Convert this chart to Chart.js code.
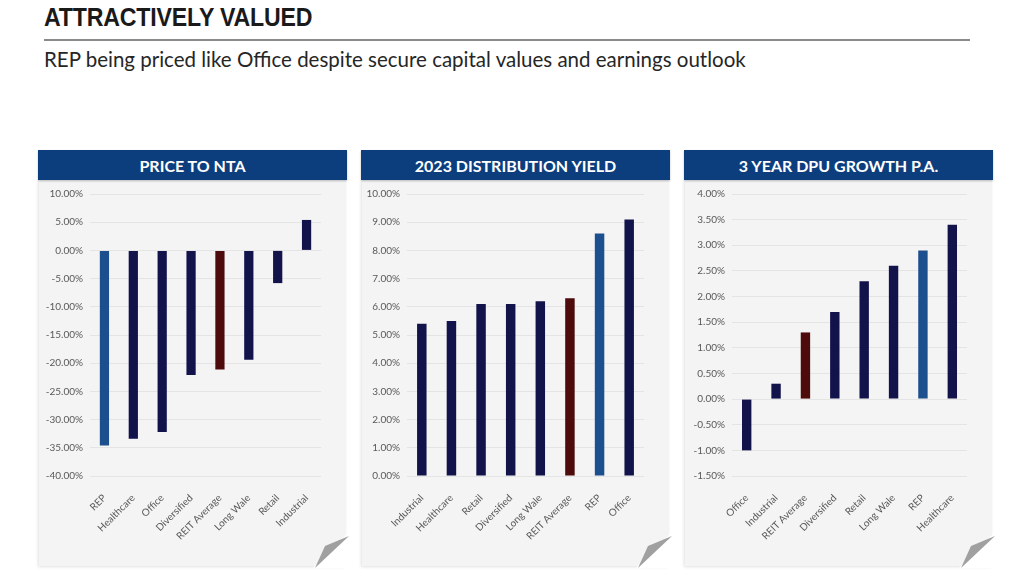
<!DOCTYPE html>
<html>
<head>
<meta charset="utf-8">
<script src="https://cdn.jsdelivr.net/npm/chart.js@4.4.1/dist/chart.umd.min.js"></script>
<style>
  html, body { margin:0; padding:0; background:#ffffff; }
  body { width:1024px; height:576px; position:relative; overflow:hidden; font-family: Lato, "Open Sans", sans-serif; }
  #title { position:absolute; left:44px; top:2px; font-family:"Liberation Sans", Arial, sans-serif; font-weight:700; font-size:26px; color:#1a1a1a; transform:scaleX(0.89); transform-origin:left top; white-space:nowrap; letter-spacing:-0.2px; }
  #rule { position:absolute; left:44px; top:39px; width:926px; height:2px; background:#8a8a8a; }
  #subtitle { position:absolute; left:44px; top:47px; font-family:Lato, sans-serif; font-size:20.5px; color:#262626; white-space:nowrap; }
  .panel { position:absolute; top:150px; width:309px; height:416px; }
  .hdr { position:absolute; left:0; top:0; width:100%; height:30px; background:#0c3e7e; color:#fff; font-family:Lato, sans-serif; font-weight:700; font-size:16px; line-height:31px; text-align:center; box-shadow:0 1px 2px rgba(0,0,0,0.25); }
  .body { position:absolute; left:1px; top:30px; width:307px; height:386px; background:#f4f4f4; box-shadow:-1px 1px 3px rgba(0,0,0,0.12); }
  .panel canvas { position:absolute; left:0; top:30px; }
  .curl { position:absolute; right:-2px; bottom:-2px; width:36px; height:36px; }
</style>
</head>
<body>
<div id="title">ATTRACTIVELY VALUED</div>
<div id="rule"></div>
<div id="subtitle">REP being priced like Office despite secure capital values and earnings outlook</div>

<div class="panel" style="left:38px;"><div class="body"></div><div class="hdr">PRICE TO NTA</div><canvas id="c1" width="309" height="386"></canvas>
<svg class="curl" viewBox="0 0 36 36"><polygon points="36,0 36,36 0,36" fill="#ffffff"/><polygon points="36,4 2,36 12,14" fill="#a0a0a0"/></svg></div>
<div class="panel" style="left:361px;"><div class="body"></div><div class="hdr">2023 DISTRIBUTION YIELD</div><canvas id="c2" width="309" height="386"></canvas>
<svg class="curl" viewBox="0 0 36 36"><polygon points="36,0 36,36 0,36" fill="#ffffff"/><polygon points="36,4 2,36 12,14" fill="#a0a0a0"/></svg></div>
<div class="panel" style="left:684px;"><div class="body"></div><div class="hdr">3 YEAR DPU GROWTH P.A.</div><canvas id="c3" width="309" height="386"></canvas>
<svg class="curl" viewBox="0 0 36 36"><polygon points="36,0 36,36 0,36" fill="#ffffff"/><polygon points="36,4 2,36 12,14" fill="#a0a0a0"/></svg></div>

<script>
// ---- Data ----
const ntaCategories = ["REP", "Healthcare", "Office", "Diversified", "REIT Average", "Long Wale", "Retail", "Industrial"];
const ntaValues = [-34.6, -33.4, -32.2, -22.1, -21.1, -19.4, -5.8, 5.4];
const ntaTicks = { min: -40, max: 10, step: 5 };

const yieldCategories = ["Industrial", "Healthcare", "Retail", "Diversified", "Long Wale", "REIT Average", "REP", "Office"];
const yieldValues = [5.4, 5.5, 6.1, 6.1, 6.2, 6.3, 8.6, 9.1];
const yieldTicks = { min: 0, max: 10, step: 1 };

const dpuCategories = ["Office", "Industrial", "REIT Average", "Diversified", "Retail", "Long Wale", "REP", "Healthcare"];
const dpuValues = [-1.0, 0.3, 1.3, 1.7, 2.3, 2.6, 2.9, 3.4];
const dpuTicks = { min: -1.5, max: 4, step: 0.5 };

// ---- Styles ----
const NAVY = "#13134c", REPBLUE = "#1c4f8e", AVGRED = "#4e0b0b";
function colorFor(c) { return c === "REP" ? REPBLUE : (c === "REIT Average" ? AVGRED : NAVY); }

function makeChart(id, cats, vals, t, yWidth) {
  new Chart(document.getElementById(id), {
    type: "bar",
    data: { labels: cats, datasets: [{ data: vals, backgroundColor: cats.map(colorFor), borderWidth: 0, barPercentage: 0.32, categoryPercentage: 1 }] },
    options: {
      responsive: false, animation: false,
      layout: { padding: { top: 14, right: 26, bottom: 0, left: 0 } },
      plugins: { legend: { display: false }, tooltip: { enabled: false } },
      scales: {
        x: {
          grid: { display: false }, border: { display: false },
          ticks: { maxRotation: 45, minRotation: 45, color: "#595959", font: { family: "Lato", size: 10 }, padding: 8 },
          afterFit: s => { s.height = 90; }
        },
        y: {
          min: t.min, max: t.max,
          grid: { color: "#e4e4e4", drawTicks: false, lineWidth: 1 }, border: { display: false },
          ticks: { stepSize: t.step, color: "#595959", font: { family: "Lato", size: 10 }, padding: 7,
                   callback: v => v.toFixed(2) + "%" },
          afterFit: s => { s.width = yWidth; }
        }
      }
    }
  });
}
makeChart("c1", ntaCategories, ntaValues, ntaTicks, 52);
makeChart("c2", yieldCategories, yieldValues, yieldTicks, 46);
makeChart("c3", dpuCategories, dpuValues, dpuTicks, 48);
</script>
</body>
</html>
